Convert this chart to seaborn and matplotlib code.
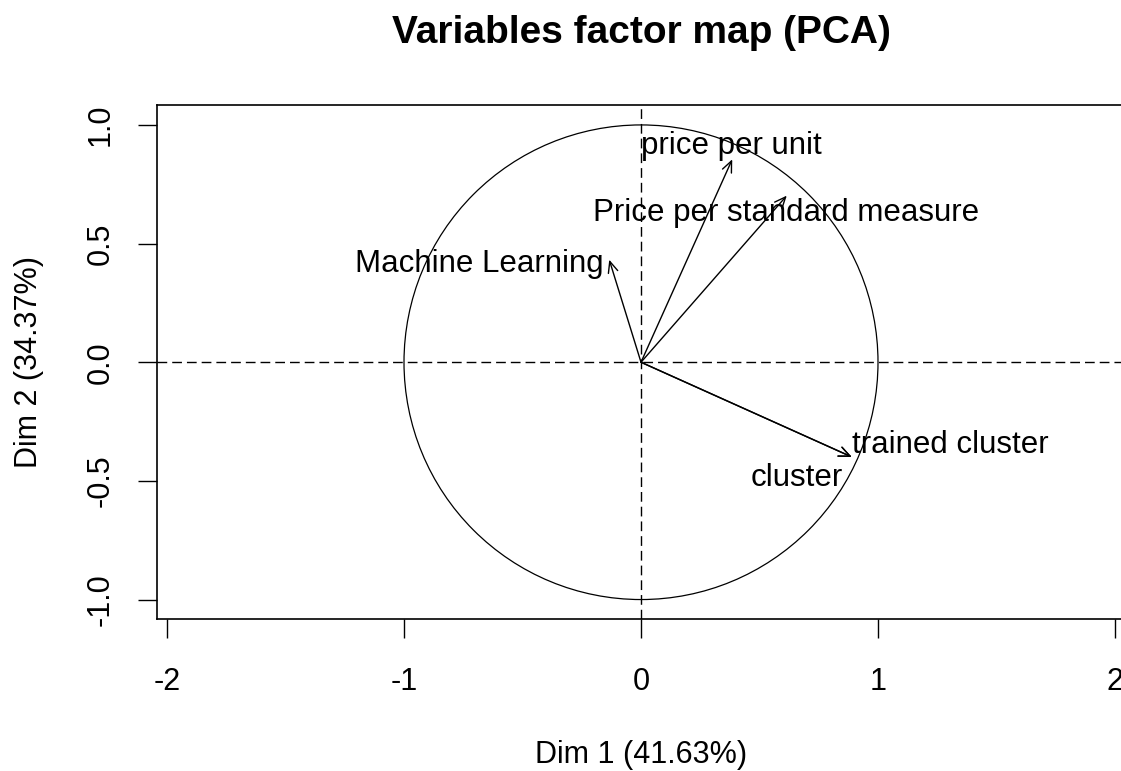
import pandas as pd
import matplotlib.pyplot as plt
import matplotlib.patches as mpatches
import seaborn as sns

# PCA variable coordinates
variables = ["price per unit", "Price per standard measure", "Machine Learning",
             "trained cluster", "cluster"]
dim1 = [0.385, 0.615, -0.134, 0.889, 0.889]
dim2 = [0.855, 0.702, 0.432, -0.399, -0.399]

x_ticks = [-2, -1, 0, 1, 2]
y_ticks = [-1.0, -0.5, 0.0, 0.5, 1.0]
y_tick_labels = ["-1.0", "-0.5", "0.0", "0.5", "1.0"]

df = pd.DataFrame({"variable": variables, "dim1": dim1, "dim2": dim2})

# label placement, pixels from arrow tip (R autoLab style)
label_layout = {
    "price per unit": (-1, 5, "center"),
    "Price per standard measure": (-1, -25, "center"),
    "Machine Learning": (-6, -12, "right"),
    "trained cluster": (0, 4, "left"),
    "cluster": (-9, -29, "right"),
}

sns.set_theme(style="white")
plt.rcParams["font.family"] = ["Liberation Sans", "DejaVu Sans"]
plt.rcParams["text.color"] = "black"

fig = plt.figure(figsize=(11.21, 7.71), dpi=100)
W, H = 1121, 771
ax = fig.add_axes([157 / W, (H - 619) / H, (1125 - 157) / W, (619 - 105) / H])

ax.set_xlim(-2.0422, 2.0422)
ax.set_ylim(-1.082, 1.084)

dash = (0, (7.0, 3.6))
ax.axhline(0, color="black", lw=1.0, linestyle=dash)
ax.axvline(0, color="black", lw=1.0, linestyle=dash)
ax.add_patch(mpatches.Circle((0, 0), 1, fill=False, ec="black", lw=0.9))

for _, row in df.iterrows():
    ax.annotate("", xy=(row.dim1, row.dim2), xytext=(0, 0),
                arrowprops=dict(arrowstyle="->,head_length=0.8,head_width=0.35",
                                mutation_scale=10, color="black", lw=1.0,
                                shrinkA=0, shrinkB=0))
    dx, dy, ha = label_layout[row.variable]
    ax.annotate(row.variable, xy=(row.dim1, row.dim2), xytext=(dx, dy),
                textcoords="offset pixels", ha=ha, va="baseline",
                fontsize=22.5, color="black")

ax.set_xticks(x_ticks)
ax.set_xticklabels([str(t) for t in x_ticks])
ax.set_yticks(y_ticks)
ax.set_yticklabels(y_tick_labels, rotation=90, va="center")
ax.tick_params(axis="both", direction="out", length=13.7, width=1.0,
               color="black", labelsize=22, labelcolor="black",
               bottom=True, left=True)
ax.tick_params(axis="x", pad=21)
ax.tick_params(axis="y", pad=16)
for sp in ax.spines.values():
    sp.set_color("black")
    sp.set_linewidth(1.2)

fig.text(641 / W, (H - 42.7) / H, "Variables factor map (PCA)",
         ha="center", va="baseline", fontsize=28, fontweight="bold",
         color="black")
fig.text(641 / W, (H - 763) / H, "Dim 1 (41.63%)",
         ha="center", va="baseline", fontsize=22, color="black")
fig.text(44 / W, (H - 362) / H, "Dim 2 (34.37%)", rotation=90,
         ha="right", va="center", fontsize=22, color="black")

fig.savefig("out.png", dpi=100)
plt.close(fig)
